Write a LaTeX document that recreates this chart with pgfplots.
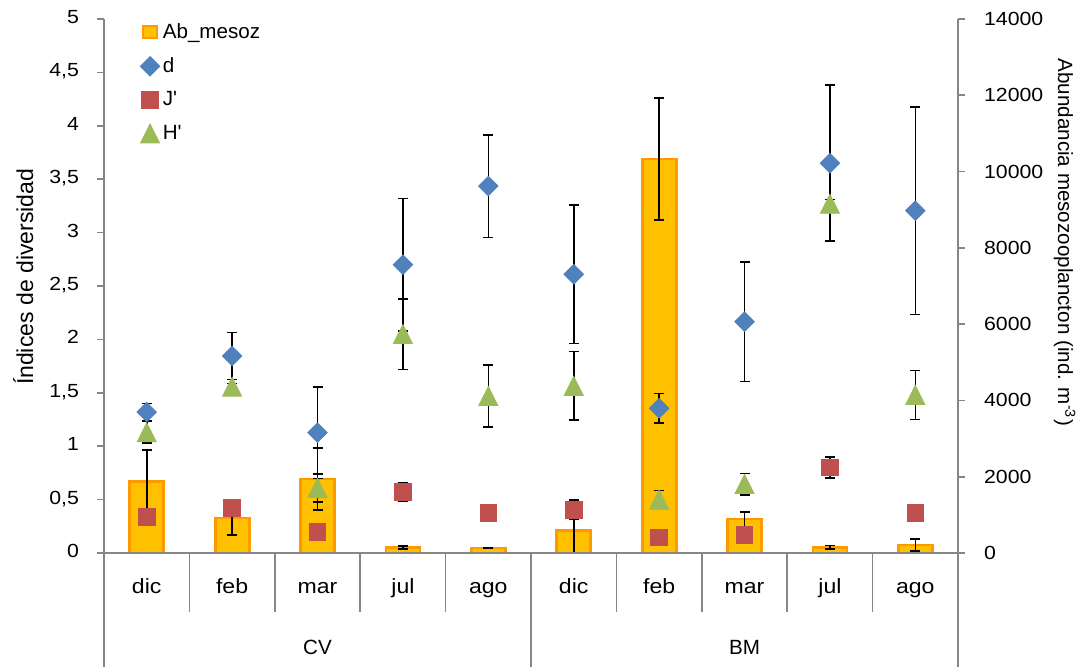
\documentclass[border=0pt]{standalone}
\usepackage{pgfplots}
\usepackage{pgfplotstable}
\pgfplotsset{compat=1.18}
\usepackage{fontspec}
\setmainfont{Liberation Sans}
\newfontfamily\wide[FakeStretch=1.12]{Liberation Sans}
\definecolor{barfill}{HTML}{FFC000}
\definecolor{barline}{HTML}{FF9900}
\definecolor{dblue}{HTML}{4F81BD}
\definecolor{jred}{HTML}{C0504D}
\definecolor{hgreen}{HTML}{9BBB59}
\definecolor{axgray}{HTML}{868686}

\pgfplotstableread{
x d de j je h he
0 1.32 0.08 0.34 0 1.13 0.10
1 1.845 0.22 0.42 0 1.557 0.03
2 1.127 0.43 0.20 0 0.61 0.13
3 2.70 0.62 0.571 0.09 2.05 0.33
4 3.436 0.48 0.377 0 1.47 0.29
5 2.61 0.65 0.405 0.09 1.565 0.32
6 1.355 0.14 0.147 0 0.50 0.085
7 2.166 0.56 0.168 0 0.646 0.10
8 3.65 0.73 0.80 0.10 3.27 0.04
9 3.205 0.97 0.377 0 1.48 0.23
}\divtab

\pgfplotstableread{
x ab abe
0 1870 830
1 918 450
2 1940 820
3 140 40
4 130 15
5 600 600
6 10330 1600
7 890 190
8 150 50
9 210 150
}\abtab

\pgfplotsset{
  base/.style={
    scale only axis, width=427pt, height=267pt,
    xmin=-0.5, xmax=9.5,
    axis line style={axgray, line width=0.8pt},
    tick style={axgray, line width=0.8pt},
    major tick length=3.5pt,
    tick align=outside,
    ticklabel style={font=\wide\fontsize{9.5}{11}\selectfont},
    /pgf/number format/assume math mode=true,
    clip=false,
  },
  eb/.style={error bars/.cd, y dir=both, y explicit,
    error bar style={black, line width=0.8pt},
    error mark options={black, rotate=90, mark size=2.5pt, line width=0.8pt}},
}

\begin{document}
\begin{tikzpicture}
\begin{axis}[base,
  axis x line=none, axis y line*=right,
  ymin=0, ymax=14000, ytick={0,2000,...,14000},
  scaled y ticks=false,
  /pgf/number format/1000 sep={},
  yticklabel style={anchor=west, xshift=6pt},
  ylabel={Abundancia mesozooplancton (ind. m\textsuperscript{-3})},
  every axis y label/.style={at={(axis description cs:1.1171,0.582)}, rotate=-90, anchor=base,
    font=\fontsize{10.3}{12}\selectfont},
]
\addplot[ybar, bar width=17pt, fill=barfill, draw=barline, line width=1.4pt, eb]
  table[x=x, y=ab, y error=abe] {\abtab};
\path (rel axis cs:-0.1218,-0.2135) rectangle (rel axis cs:1.1475,1.0356);
\end{axis}

\begin{axis}[base,
  axis x line*=bottom, axis y line*=left,
  ymin=0, ymax=5, ytick={0,0.5,...,5},
  /pgf/number format/use comma,
  yticklabel style={anchor=east, xshift=-5.5pt},
  xtick={0,...,9},
  xticklabels={dic,feb,mar,jul,ago,dic,feb,mar,jul,ago},
  xtick style={draw=none},
  typeset ticklabels with strut,
  xticklabel style={anchor=center, yshift=-14.5pt, font=\wide\fontsize{10.3}{12}\selectfont},
  ylabel={Índices de diversidad},
  every axis y label/.style={at={(axis description cs:-0.0831,0.517)}, rotate=90, anchor=base,
    font=\fontsize{11.5}{13}\selectfont},
  legend style={draw=none, fill=none, at={(axis description cs:0.035,1.006)}, anchor=north west,
    font=\fontsize{10.3}{12}\selectfont, row sep=5.1pt, nodes={inner sep=1.5pt}},
  legend cell align=left,
  legend image code/.code={\draw[#1] plot coordinates {(0.15cm,0cm)};},
]
\addlegendimage{legend image code/.code={\draw[fill=barfill,draw=barline,line width=1.2pt] (0.03cm,-3pt) rectangle (0.27cm,3pt);}}
\addlegendentry{Ab\_mesoz}
\addplot[only marks, mark=square*, mark size=3.45pt, color=dblue, mark options={rotate=45}, eb]
  table[x=x, y=d, y error=de] {\divtab};
\addlegendentry{d}
\addplot[only marks, mark=square*, mark size=4.15pt, color=jred, eb]
  table[x=x, y=j, y error=je] {\divtab};
\addlegendentry{J\textquotesingle}
\addplot[only marks, mark=triangle*, mark size=5.5pt, color=hgreen, mark options={yshift=-1.58pt, yscale=1.15}, eb]
  table[x=x, y=h, y error=he] {\divtab};
\addlegendentry{H\textquotesingle}
\pgfplotsinvokeforeach{0.5,1.5,2.5,3.5,5.5,6.5,7.5,8.5}{
  \draw[axgray, line width=0.8pt] (axis cs:#1,0) -- ++(0pt,-29.5pt);
}
\pgfplotsinvokeforeach{-0.5,4.5,9.5}{
  \draw[axgray, line width=0.8pt] (axis cs:#1,0) -- ++(0pt,-57pt);
}
\node[font=\fontsize{10.3}{12}\selectfont] at (axis cs:2,0) [yshift=-47pt] {CV};
\node[font=\fontsize{10.3}{12}\selectfont] at (axis cs:7,0) [yshift=-47pt] {BM};
\end{axis}
\end{tikzpicture}
\end{document}
